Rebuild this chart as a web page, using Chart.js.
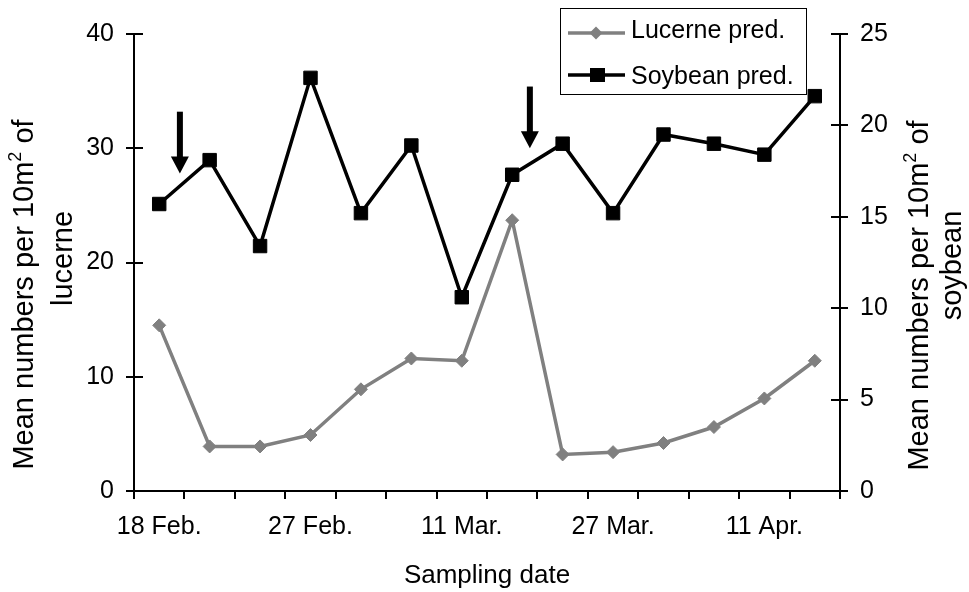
<!DOCTYPE html>
<html><head><meta charset="utf-8">
<script src="https://cdn.jsdelivr.net/npm/chart.js@4"></script>
<style>html,body{margin:0;padding:0;background:#fff;overflow:hidden}</style>
</head><body>
<canvas id="c" width="969" height="592"></canvas>
<script>
// ---- data ----
const categories = ['18 Feb.', '', '', '27 Feb.', '', '', '11 Mar.', '', '', '27 Mar.', '', '', '11 Apr.', ''];
const lucerne = [14.5, 3.9, 3.9, 4.9, 8.9, 11.6, 11.4, 23.7, 3.2, 3.4, 4.2, 5.6, 8.1, 11.4];
const soybean = [15.7, 18.1, 13.4, 22.6, 15.2, 18.9, 10.6, 17.3, 19.0, 15.2, 19.5, 19.0, 18.4, 21.6];
const seriesNames = ['Lucerne pred.', 'Soybean pred.'];
const leftRange = [0, 40];
const leftStep = 10;
const rightRange = [0, 25];
const rightStep = 5;
// arrows (category position, top value, tip value on left axis)
const arrowAt = [0.41, 7.35];
const arrowTop = [33.2, 35.4];
const arrowTip = [27.8, 30.0];
const xTitle = 'Sampling date';
const leftTitle = ['Mean numbers per 10m', '2', ' of', 'lucerne'];
const rightTitle = ['Mean numbers per 10m', '2', ' of', 'soybean'];

const FONT = "'Liberation Sans', Arial, Helvetica, sans-serif";
const GRAY = '#808080';

function richLine(ctx, parts, cx, baseY) {
  let w = 0;
  parts.forEach(p => { ctx.font = p[1] + 'px ' + FONT; w += ctx.measureText(p[0]).width; });
  let x = cx - w / 2;
  parts.forEach(p => {
    ctx.font = p[1] + 'px ' + FONT;
    ctx.fillText(p[0], x, baseY + (p[2] || 0));
    x += ctx.measureText(p[0]).width;
  });
}

function rotatedTitle(ctx, t, x1, c1, x2, c2) {
  ctx.save();
  ctx.translate(x1, c1);
  ctx.rotate(-Math.PI / 2);
  richLine(ctx, [[t[0], 29], [t[1], 18, -12], [t[2], 29]], 0, 0);
  ctx.restore();
  ctx.save();
  ctx.translate(x2, c2);
  ctx.rotate(-Math.PI / 2);
  richLine(ctx, [[t[3], 29]], 0, 0);
  ctx.restore();
}

const decor = {
  id: 'decor',
  afterDraw(chart) {
    const { ctx, chartArea: a, scales } = chart;
    const xs = scales.x, yl = scales.y, yr = scales.y1;
    ctx.save();
    // inner halves of y ticks
    ctx.strokeStyle = '#000';
    ctx.lineWidth = 2;
    yl.ticks.forEach((t, i) => {
      const py = Math.round(yl.getPixelForTick(i));
      ctx.beginPath(); ctx.moveTo(a.left, py); ctx.lineTo(a.left + 9, py); ctx.stroke();
    });
    yr.ticks.forEach((t, i) => {
      const py = Math.round(yr.getPixelForTick(i));
      ctx.beginPath(); ctx.moveTo(a.right - 9, py); ctx.lineTo(a.right, py); ctx.stroke();
    });
    // arrows
    ctx.fillStyle = '#000';
    arrowAt.forEach((v, i) => {
      const px = xs.getPixelForValue(v);
      const top = yl.getPixelForValue(arrowTop[i]);
      const tip = yl.getPixelForValue(arrowTip[i]);
      ctx.fillRect(px - 3, top, 6, tip - top - 15);
      ctx.beginPath();
      ctx.moveTo(px - 9, tip - 17);
      ctx.lineTo(px + 9, tip - 17);
      ctx.lineTo(px, tip);
      ctx.closePath();
      ctx.fill();
    });
    // legend
    ctx.fillStyle = '#fff';
    ctx.fillRect(560, 8, 246, 86);
    ctx.lineWidth = 1;
    ctx.strokeStyle = '#000';
    ctx.strokeRect(560.5, 8.5, 246, 86);
    ctx.lineWidth = 3.5;
    ctx.strokeStyle = GRAY;
    ctx.beginPath(); ctx.moveTo(568, 33); ctx.lineTo(625, 33); ctx.stroke();
    ctx.fillStyle = GRAY;
    ctx.beginPath(); ctx.moveTo(596 - 6.5, 33); ctx.lineTo(596, 26.5); ctx.lineTo(596 + 6.5, 33); ctx.lineTo(596, 39.5); ctx.closePath(); ctx.fill();
    ctx.strokeStyle = '#000';
    ctx.beginPath(); ctx.moveTo(568, 75); ctx.lineTo(625, 75); ctx.stroke();
    ctx.fillStyle = '#000';
    ctx.fillRect(590, 68, 15, 14);
    ctx.font = '25px ' + FONT;
    ctx.textAlign = 'left';
    ctx.textBaseline = 'alphabetic';
    ctx.fillText(seriesNames[0], 631, 38);
    ctx.fillText(seriesNames[1], 631, 84);
    // titles
    ctx.fillStyle = '#000';
    const mid = (a.top + a.bottom) / 2;
    rotatedTitle(ctx, leftTitle, a.left - 101, mid + 32, a.left - 62, mid - 4);
    rotatedTitle(ctx, rightTitle, a.right + 88, mid + 33, a.right + 121, mid + 3);
    ctx.font = '26px ' + FONT;
    const tw = ctx.measureText(xTitle).width;
    ctx.fillText(xTitle, (a.left + a.right) / 2 - tw / 2, 583);
    ctx.restore();
  }
};

const tickFont = { family: FONT, size: 25 };
const axisGrid = { drawOnChartArea: false, color: '#000', lineWidth: 2, tickLength: 8, tickWidth: 2 };

new Chart(document.getElementById('c'), {
  type: 'line',
  data: {
    labels: categories,
    datasets: [
      {
        label: seriesNames[0], data: lucerne, yAxisID: 'y',
        borderColor: GRAY, backgroundColor: GRAY, borderWidth: 3.5,
        pointStyle: 'rectRot', pointRadius: 6.5, pointBorderWidth: 1,
        pointBackgroundColor: GRAY, pointBorderColor: GRAY, tension: 0
      },
      {
        label: seriesNames[1], data: soybean, yAxisID: 'y1',
        borderColor: '#000', backgroundColor: '#000', borderWidth: 3.5,
        pointStyle: 'rect', pointRadius: 9.5, pointBorderWidth: 1,
        pointBackgroundColor: '#000', pointBorderColor: '#000', tension: 0
      }
    ]
  },
  options: {
    responsive: false,
    animation: false,
    devicePixelRatio: 1,
    layout: { padding: { top: 34, left: 0, right: 0, bottom: 0 } },
    plugins: { legend: { display: false }, tooltip: { enabled: false } },
    scales: {
      x: {
        type: 'category', offset: true,
        grid: Object.assign({ offset: true }, axisGrid),
        border: { color: '#000', width: 2 },
        ticks: { autoSkip: false, maxRotation: 0, minRotation: 0, font: tickFont, color: '#000', padding: 13 },
        afterFit(s) { s.height = 101; }
      },
      y: {
        position: 'left', min: leftRange[0], max: leftRange[1],
        grid: axisGrid,
        border: { color: '#000', width: 2 },
        ticks: { stepSize: leftStep, font: tickFont, color: '#000', padding: 12 },
        afterFit(s) { s.width = 134; }
      },
      y1: {
        position: 'right', min: rightRange[0], max: rightRange[1],
        grid: axisGrid,
        border: { color: '#000', width: 2 },
        ticks: { stepSize: rightStep, font: tickFont, color: '#000', padding: 12 },
        afterFit(s) { s.width = 129; }
      }
    }
  },
  plugins: [decor]
});
</script>
</body></html>
